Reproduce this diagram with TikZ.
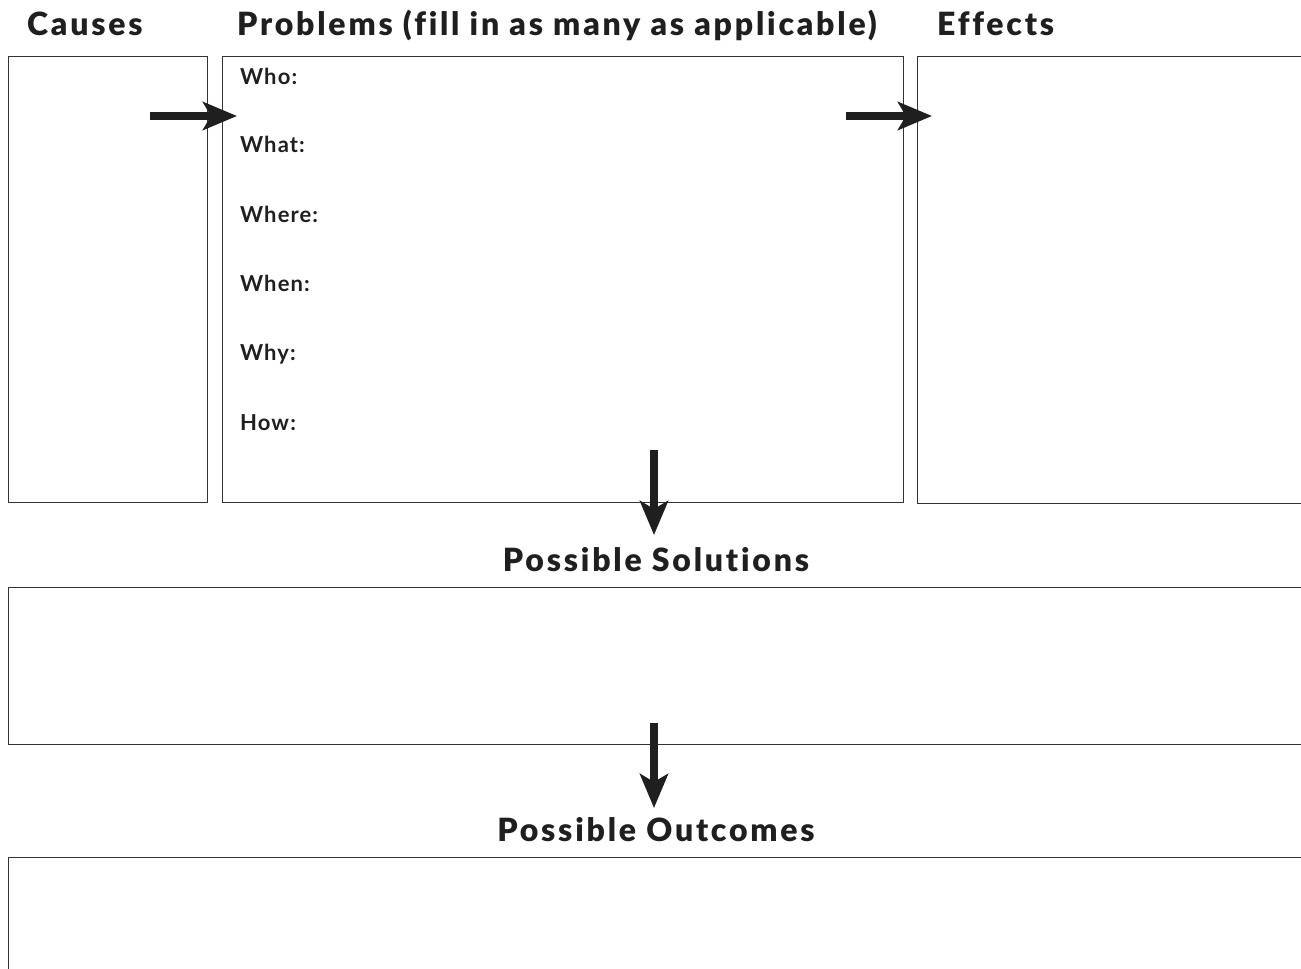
\documentclass[tikz,border=0pt]{standalone}
\usepackage{fontspec}
\setmainfont{Lato}
\newfontfamily\headfont[LetterSpace=8.7,Ligatures={NoCommon,NoContextual}]{Lato Black}
\newfontfamily\itemfont[LetterSpace=5,Ligatures={NoCommon,NoContextual}]{Lato}
\usetikzlibrary{arrows.meta}
\begin{document}
\begin{tikzpicture}[x=1pt,y=-1pt,
  boxstyle/.style={draw=black!80,line width=1.4pt,inner sep=0pt},
  head/.style={font=\headfont\fontsize{32}{32}\selectfont,text=black!88,inner sep=0pt,anchor=base west},
  item/.style={font=\itemfont\bfseries\fontsize{22}{22}\selectfont,text=black!88,inner sep=0pt,anchor=base west},
  bigarrow/.style={line width=7.5pt,draw=black!88,-{Stealth[length=34pt,width=28pt,inset=8pt]},shorten >=-2pt}]
\useasboundingbox (0,0) rectangle (1301,969);
\clip (0,0) rectangle (1301,969);
% boxes
\node[boxstyle,minimum width=199pt,minimum height=446pt,anchor=north west] (causes) at (8,56) {};
\node[boxstyle,minimum width=681pt,minimum height=446pt,anchor=north west] (problems) at (222,56) {};
\node[boxstyle,minimum width=420pt,minimum height=447pt,anchor=north west] (effects) at (917,56) {};
\node[boxstyle,minimum width=1330pt,minimum height=157pt,anchor=north west] (solutions) at (8,587) {};
\node[boxstyle,minimum width=1330pt,minimum height=160pt,anchor=north west] (outcomes) at (8,857) {};
% headings
\node[head] (hcauses) at (27,35) {Causes};
\node[head] (hproblems) at (237,35) {Problems (fill in as many as applicable)};
\node[head] (heffects) at (937,35) {Effects};
\node[head,anchor=base] (hsol) at (656,571) {Possible Solutions};
\node[head,anchor=base] (hout) at (656,841) {Possible Outcomes};
% items
\node[item] (who) at (240,84) {Who:};
\node[item] (what) at (240,152) {What:};
\node[item] (where) at (240,222) {Where:};
\node[item] (when) at (240,291) {When:};
\node[item] (why) at (240,360) {Why:};
\node[item] (how) at (240,430) {How:};
% arrow anchors
\coordinate (a1s) at (150,116);
\coordinate (a1e) at (235,116);
\coordinate (a2s) at (846,116);
\coordinate (a2e) at (930,116);
\coordinate (a3s) at (654,450);
\coordinate (a3e) at (654,533);
\coordinate (a4s) at (654,723);
\coordinate (a4e) at (654,806);
\draw[bigarrow] (a1s) -- (a1e);
\draw[bigarrow] (a2s) -- (a2e);
\draw[bigarrow] (a3s) -- (a3e);
\draw[bigarrow] (a4s) -- (a4e);
\end{tikzpicture}
\end{document}
